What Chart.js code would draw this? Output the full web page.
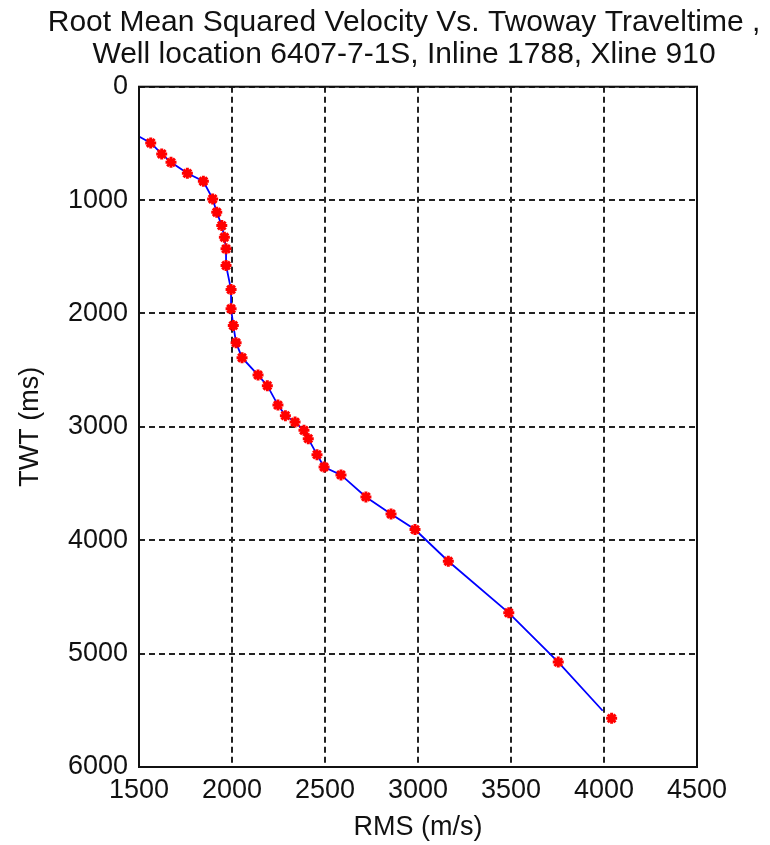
<!DOCTYPE html>
<html lang="en">
<head>
    <meta charset="UTF-8">
    <title>RMS velocity vs TWT</title>
    <script src="https://cdn.jsdelivr.net/npm/chart.js"></script>
    <style>
        body { margin: 0; background: #fff; }
    </style>
</head>
<body>
    <canvas id="myChart" width="770" height="845"></canvas>

<script>

// picked RMS velocities (m/s) and their two-way times (ms)
const rmsVel = [1563, 1622, 1672, 1760, 1846, 1896, 1918, 1945, 1959, 1968, 1968,
  1995, 1995, 2007, 2022, 2054, 2140, 2190, 2247, 2287, 2339, 2387, 2410, 2457,
  2495, 2586, 2720, 2855, 2984, 3163, 3488, 3754, 4041];
const twt = [496, 593, 667, 764, 834, 990, 1107, 1225, 1328, 1430, 1577,
  1789, 1959, 2106, 2258, 2390, 2543, 2637, 2808, 2901, 2958, 3031, 3104, 3245,
  3354, 3424, 3618, 3768, 3906, 4185, 4640, 5075, 5571];

// continuous velocity trace
const lineVel = [1500, 1563, 1622, 1672, 1760, 1846, 1896, 1918, 1945, 1959, 1968, 1968,
  1995, 1995, 2007, 2022, 2054, 2140, 2190, 2247, 2287, 2339, 2387, 2410, 2457,
  2495, 2586, 2720, 2855, 2984, 3163, 3488, 3754, 3993];
const lineTwt = [440, 496, 593, 667, 764, 834, 990, 1107, 1225, 1328, 1430, 1577,
  1789, 1959, 2106, 2258, 2390, 2543, 2637, 2808, 2901, 2958, 3031, 3104, 3245,
  3354, 3424, 3618, 3768, 3906, 4185, 4640, 5075, 5504];

const xTicks = [1500, 2000, 2500, 3000, 3500, 4000, 4500];
const yTicks = [0, 1000, 2000, 3000, 4000, 5000, 6000];

const titleLines = [
  'Root Mean Squared Velocity Vs. Twoway Traveltime ,',
  'Well location 6407-7-1S, Inline 1788, Xline 910'
];

const fontFamily = "'Liberation Sans', Arial, sans-serif";
const textColor = '#111';

function toPoints(xs, ys) {
  return xs.map((v, i) => ({x: v, y: ys[i]}));
}

// solid frame round the plot area
const boxPlugin = {
  id: 'box',
  afterDatasetsDraw(chart) {
    const a = chart.chartArea;
    const ctx = chart.ctx;
    ctx.save();
    ctx.strokeStyle = '#111';
    ctx.lineWidth = 2;
    ctx.strokeRect(a.left, a.top, a.right - a.left, a.bottom - a.top);
    ctx.restore();
  }
};

const gridStyle = {
  color: '#222',
  lineWidth: 2,
  drawTicks: false
};

const data = {
  datasets: [{
    label: 'picks',
    data: toPoints(rmsVel, twt),
    showLine: false,
    pointStyle: 'star',
    pointRadius: 5.5,
    borderWidth: 3,
    borderColor: '#ff0000',
    backgroundColor: '#ff0000',
    order: 1
  }, {
    label: 'trace',
    data: toPoints(lineVel, lineTwt),
    showLine: true,
    pointRadius: 0,
    borderColor: '#0000ff',
    borderWidth: 1.8,
    order: 2
  }]
};

const config = {
  type: 'scatter',
  data: data,
  options: {
    responsive: false,
    devicePixelRatio: 1,
    animation: false,
    layout: { padding: { left: 38, right: 0, top: 0, bottom: 0 } },
    plugins: {
      legend: { display: false },
      tooltip: { enabled: false },
      title: {
        display: true,
        text: titleLines,
        color: textColor,
        font: { family: fontFamily, size: 30, weight: 'normal', lineHeight: 1.07 },
        padding: { top: 7, bottom: 15.5 }
      }
    },
    scales: {
      x: {
        type: 'linear',
        min: xTicks[0],
        max: xTicks[xTicks.length - 1],
        afterBuildTicks: s => { s.ticks = xTicks.map(v => ({value: v})); },
        afterFit: s => { s.height = 78; },
        ticks: {
          padding: 7,
          maxRotation: 0,
          autoSkip: false,
          color: textColor,
          font: { family: fontFamily, size: 27 },
          callback: v => String(v)
        },
        grid: gridStyle,
        border: { display: false, dash: [6, 4] },
        title: {
          display: true,
          text: 'RMS (m/s)',
          color: textColor,
          font: { family: fontFamily, size: 27 },
          padding: { top: 0, bottom: 1 }
        }
      },
      y: {
        type: 'linear',
        reverse: true,
        min: yTicks[0],
        max: yTicks[yTicks.length - 1],
        afterBuildTicks: s => { s.ticks = yTicks.map(v => ({value: v})); },
        afterFit: s => { s.width = 101; },
        ticks: {
          padding: 11,
          autoSkip: false,
          color: textColor,
          font: { family: fontFamily, size: 27 },
          callback: v => String(v)
        },
        grid: gridStyle,
        border: { display: false, dash: [6, 4] },
        title: {
          display: true,
          text: 'TWT (ms)',
          color: textColor,
          font: { family: fontFamily, size: 27 },
          padding: { top: -24, bottom: 0 }
        }
      },
      // empty right-hand margin axis, keeps the plot clear of the canvas edge
      yMargin: {
        type: 'linear',
        position: 'right',
        ticks: { display: false },
        grid: { display: false },
        border: { display: false },
        afterFit: s => { s.width = 73; }
      }
    }
  },
  plugins: [boxPlugin]
};

const myChart = new Chart(
  document.getElementById('myChart'),
  config
);
</script>
</body>
</html>
